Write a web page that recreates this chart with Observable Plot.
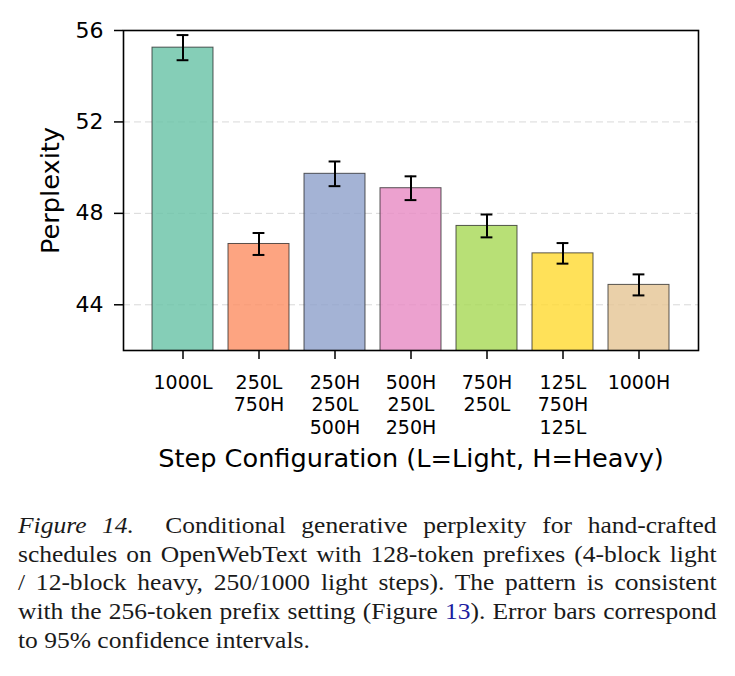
<!DOCTYPE html>
<html>
<head>
<meta charset="utf-8">
<script src="https://cdn.jsdelivr.net/npm/d3@7"></script>
<script src="https://cdn.jsdelivr.net/npm/@observablehq/plot@0.6"></script>
<style>
  body { margin: 0; background: #fff; }
  #chart svg { display: block; }
  #caption {
    margin: 31px 0 0 18px;
    width: 635px;
    transform: scaleX(1.1);
    transform-origin: left top;
    font-family: "Liberation Serif", "Times New Roman", serif;
    font-size: 23.2px;
    line-height: 28.7px;
    color: #1a1a1a;
  }
  #caption .line { display: block; text-align: justify; text-align-last: justify; white-space: nowrap; }
  #caption .line.last { text-align: left; text-align-last: left; }
  #caption .ref { color: #1c1ca0; }
</style>
</head>
<body>
<div id="chart"></div>
<div id="caption">
  <span class="line"><i>Figure 14.</i>&nbsp; Conditional generative perplexity for hand-crafted</span>
  <span class="line">schedules on OpenWebText with 128-token prefixes (4-block light</span>
  <span class="line">/ 12-block heavy, 250/1000 light steps). The pattern is consistent</span>
  <span class="line">with the 256-token prefix setting (Figure <span class="ref">13</span>). Error bars correspond</span>
  <span class="line last">to 95% confidence intervals.</span>
</div>
<script>
// Step schedules (L = light model steps, H = heavy model steps)
const configs = [
  "1000L",
  "250L\n750H",
  "250H\n250L\n500H",
  "500H\n250L\n250H",
  "750H\n250L",
  "125L\n750H\n125L",
  "1000H"
];
// Mean generative perplexity per schedule
const perplexity = [55.25, 46.66, 49.73, 49.10, 47.45, 46.25, 44.87];
// Half-width of the 95% confidence interval
const ci95 = [0.55, 0.48, 0.54, 0.52, 0.50, 0.45, 0.46];
const yTicks = [44, 48, 52, 56];

const rows = configs.map((config, i) => ({
  config,
  ppl: perplexity[i],
  lo: perplexity[i] - ci95[i],
  hi: perplexity[i] + ci95[i]
}));

const chart = Plot.plot({
  width: 735,
  height: 480,
  marginLeft: 123,
  marginRight: 37,
  marginTop: 30,
  marginBottom: 130,
  style: { fontFamily: "'DejaVu Sans', sans-serif", color: "#000", background: "#fff", overflow: "visible" },
  x: { domain: configs, paddingInner: 0.2, paddingOuter: 0.35 },
  y: { domain: [42, 56] },
  color: { domain: configs, range: d3.schemeSet2 },
  marks: [
    Plot.gridY({ ticks: yTicks, stroke: "#d9d9d9", strokeOpacity: 1, strokeWidth: 1, strokeDasharray: "7,4" }),
    Plot.barY(rows, {
      x: "config", y1: 0, y2: "ppl",
      fill: "config", fillOpacity: 0.8,
      stroke: "#222", strokeOpacity: 0.75, strokeWidth: 1,
      clip: true
    }),
    Plot.ruleX(rows, { x: "config", y1: "lo", y2: "hi", stroke: "#000", strokeWidth: 2 }),
    Plot.tickY(rows, { x: "config", y: "lo", stroke: "#000", strokeWidth: 2, inset: 24.6 }),
    Plot.tickY(rows, { x: "config", y: "hi", stroke: "#000", strokeWidth: 2, inset: 24.6 }),
    Plot.frame({ stroke: "#000", strokeWidth: 1.6 }),
    Plot.axisY({ ticks: yTicks, tickSize: 9, tickPadding: 11, fontSize: 22, strokeWidth: 1.5, label: null }),
    Plot.axisX({ tickSize: 9, tickPadding: 13, fontSize: 19, lineHeight: 1.2, strokeWidth: 1.5, label: null }),
    Plot.text(["Perplexity"], {
      text: d => d, frameAnchor: "left", textAnchor: "middle", lineAnchor: "middle",
      rotate: -90, dx: -72.5, fontSize: 25.6
    }),
    Plot.text(["Step Configuration (L=Light, H=Heavy)"], {
      text: d => d, frameAnchor: "bottom", textAnchor: "middle", lineAnchor: "middle",
      dy: 108.5, fontSize: 25.6
    })
  ]
});

document.getElementById("chart").appendChild(chart);
</script>
</body>
</html>
